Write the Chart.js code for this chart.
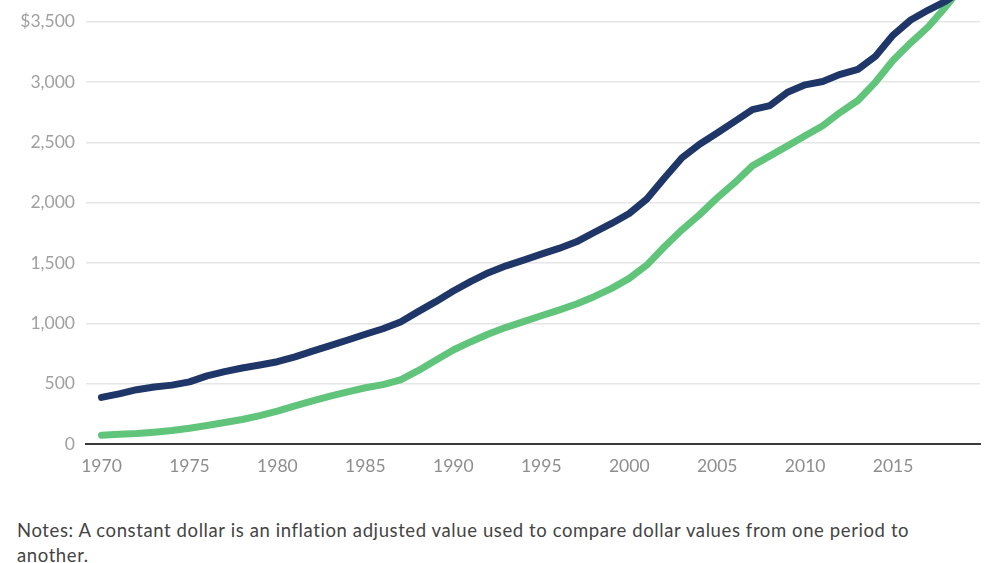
<!DOCTYPE html>
<html>
<head>
<meta charset="utf-8">
<script src="https://cdn.jsdelivr.net/npm/chart.js@4"></script>
<style>
  html, body { margin: 0; padding: 0; background: #fff; }
  body { width: 1000px; height: 563px; overflow: hidden; position: relative; font-family: Lato, sans-serif; }
  #wrap { position: absolute; left: 0; top: 0; width: 1000px; height: 490px; }
  #notes { position: absolute; left: 17px; top: 518px; font-size: 18.5px; letter-spacing: 0.6px; line-height: 25px; color: #444; white-space: nowrap; }
</style>
</head>
<body>
<div id="wrap"><canvas id="chart"></canvas></div>
<div id="notes">Notes: A constant dollar is an inflation adjusted value used to compare dollar values from one period to<br>another.</div>
<script>
// values
const years = [
  1970, 1971, 1972, 1973, 1974, 1975, 1976, 1977, 1978, 1979,
  1980, 1981, 1982, 1983, 1984, 1985, 1986, 1987, 1988, 1989,
  1990, 1991, 1992, 1993, 1994, 1995, 1996, 1997, 1998, 1999,
  2000, 2001, 2002, 2003, 2004, 2005, 2006, 2007, 2008, 2009,
  2010, 2011, 2012, 2013, 2014, 2015, 2016, 2017, 2018, 2019
];
const constantDollars = [
  386, 415, 450, 473, 488, 515, 565, 600, 630, 655,
  682, 722, 770, 815, 862, 910, 955, 1012, 1097, 1180,
  1268, 1348, 1420, 1477, 1524, 1574, 1621, 1676, 1753, 1828,
  1910, 2030, 2205, 2372, 2485, 2578, 2674, 2772, 2805, 2916,
  2977, 3005, 3064, 3105, 3214, 3389, 3514, 3597, 3670, 3770
];
const currentDollars = [
  73, 80, 87, 98, 112, 131, 153, 178, 203, 235,
  272, 316, 357, 396, 432, 466, 492, 531, 608, 694,
  779, 848, 912, 967, 1014, 1063, 1110, 1160, 1221, 1290,
  1373, 1483, 1635, 1775, 1901, 2040, 2166, 2305, 2388, 2471,
  2555, 2638, 2749, 2847, 3000, 3180, 3325, 3458, 3625, 3810
];
const yearTicks = [1970, 1975, 1980, 1985, 1990, 1995, 2000, 2005, 2010, 2015];
const valueTicks = [0, 500, 1000, 1500, 2000, 2500, 3000, 3500];

function toPoints(values) {
  return years.map((yr, i) => ({ x: yr, y: values[i] }));
}

const tickFont = { family: 'Lato, sans-serif', size: 17.5 };

new Chart(document.getElementById('chart'), {
  type: 'line',
  data: {
    datasets: [
      {
        label: 'Constant dollars',
        data: toPoints(constantDollars),
        borderColor: '#1f3768',
        borderWidth: 7,
        pointRadius: 0,
        borderCapStyle: 'round',
        borderJoinStyle: 'round',
        tension: 0
      },
      {
        label: 'Current dollars',
        data: toPoints(currentDollars),
        borderColor: '#61c47b',
        borderWidth: 7,
        pointRadius: 0,
        borderCapStyle: 'round',
        borderJoinStyle: 'round',
        tension: 0
      }
    ]
  },
  options: {
    responsive: true,
    maintainAspectRatio: false,
    animation: false,
    layout: { padding: { left: 0, right: 20, top: 0, bottom: 0 } },
    plugins: { legend: { display: false }, tooltip: { enabled: false } },
    scales: {
      x: {
        type: 'linear',
        min: 1969.12,
        max: 2019.94,
        afterBuildTicks: s => { s.ticks = yearTicks.map(v => ({ value: v })); },
        afterFit: s => { s.height = 46; s.paddingLeft = 0; s.paddingRight = 0; },
        grid: { display: false, drawTicks: false },
        border: { display: true, color: '#3a3a3a', width: 2 },
        ticks: { color: '#8e8e8e', font: tickFont, padding: 12, maxRotation: 0, callback: v => String(v) }
      },
      y: {
        min: 0,
        max: 3680,
        afterBuildTicks: s => { s.ticks = valueTicks.map(v => ({ value: v })); },
        afterFit: s => { s.width = 86; s.paddingTop = 0; s.paddingBottom = 0; },
        grid: {
          drawTicks: false,
          color: c => c.tick && c.tick.value === 0 ? 'rgba(0,0,0,0)' : '#e6e6e6',
          lineWidth: 1.5
        },
        border: { display: false },
        ticks: {
          color: '#a0a0a0',
          font: tickFont,
          padding: 11,
          callback: v => v === 3500 ? '$3,500' : v.toLocaleString('en-US')
        }
      }
    }
  }
});
</script>
</body>
</html>
